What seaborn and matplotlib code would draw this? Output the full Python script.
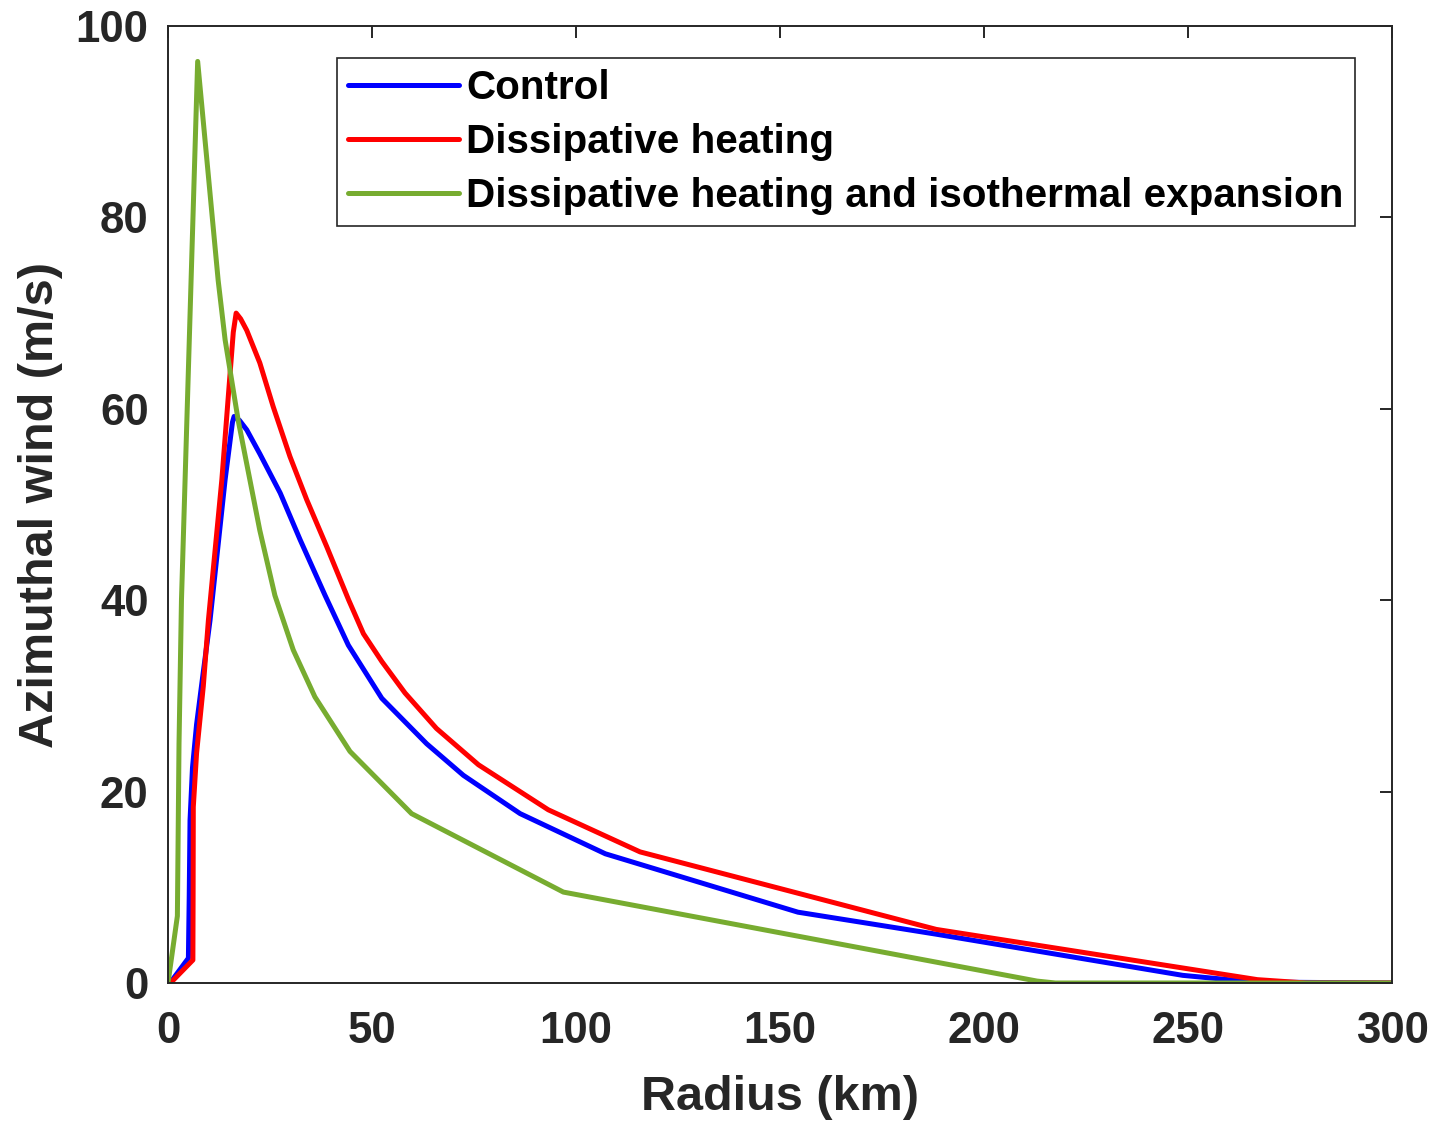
import numpy as np
import pandas as pd
import matplotlib
matplotlib.use("Agg")
import matplotlib.pyplot as plt
import seaborn as sns

# ---- data ----
control_r = [0.5, 5.0, 5.2, 5.4, 6.0, 7.0, 8.5, 10.3, 14.0, 15.8, 16.2, 17.5, 19.3, 22.5, 27.5,
             32.4, 38.5, 44.2, 52.4, 63.4, 72.4, 86.3, 107.2, 154.4, 188.3, 248.7, 266.0, 300.0]
control_v = [0.0, 2.6, 9.0, 17.0, 22.5, 27.0, 32.0, 37.9, 52.6, 58.6, 59.2, 58.8, 57.8, 55.3, 51.2,
             46.3, 40.5, 35.3, 29.75, 25.0, 21.7, 17.7, 13.5, 7.4, 5.1, 0.8, 0.1, 0.0]

dissip_r = [0.6, 6.1, 6.15, 6.2, 7.0, 8.65, 9.9, 13.2, 16.0, 16.7, 17.8, 19.3, 22.5, 25.8, 29.9,
            34.0, 38.9, 44.3, 47.9, 52.4, 58.1, 65.8, 76.1, 93.2, 115.7, 188.3, 267.0, 279.0, 300.0]
dissip_v = [0.0, 2.4, 9.0, 18.4, 24.0, 31.0, 37.9, 52.6, 68.0, 70.0, 69.4, 68.2, 64.8, 60.2, 55.0,
            50.5, 45.6, 40.0, 36.5, 33.6, 30.3, 26.6, 22.8, 18.1, 13.7, 5.6, 0.35, 0.0, 0.0]

iso_r = [0.0, 2.3, 2.7, 3.3, 7.27, 12.3, 14.0, 17.2, 22.5, 26.2, 30.7, 36.0, 44.6, 59.7,
         96.9, 213.0, 217.5, 300.0]
iso_v = [0.0, 7.0, 25.0, 40.0, 96.3, 73.4, 67.2, 58.8, 47.3, 40.5, 34.8, 29.9, 24.2, 17.7,
         9.5, 0.2, 0.0, 0.0]

labels = ["Control", "Dissipative heating", "Dissipative heating and isothermal expansion"]
colors = ["#0000FF", "#FF0000", "#77AC30"]
x_ticks = [0, 50, 100, 150, 200, 250, 300]
y_ticks = [0, 20, 40, 60, 80, 100]

df = pd.concat([
    pd.DataFrame({"r": control_r, "v": control_v, "case": labels[0]}),
    pd.DataFrame({"r": dissip_r, "v": dissip_v, "case": labels[1]}),
    pd.DataFrame({"r": iso_r, "v": iso_v, "case": labels[2]}),
], ignore_index=True)

sns.set_theme(style="white")
plt.rcParams["font.family"] = ["Liberation Sans", "DejaVu Sans"]
plt.rcParams["font.weight"] = "bold"

fig = plt.figure(figsize=(14.38, 11.26), dpi=100)
ax = fig.add_axes([168 / 1438, 1 - 983 / 1126, 1224 / 1438, 957 / 1126])

sns.lineplot(data=df, x="r", y="v", hue="case", hue_order=labels,
             palette=colors, sort=False, estimator=None, linewidth=3.6, ax=ax)

ax.set_xlim(0, 300)
ax.set_ylim(0, 100)
ax.set_xticks(x_ticks)
ax.set_yticks(y_ticks)
ax.tick_params(direction="in", top=True, right=True, length=8.6, width=1.4,
               colors="#262626", labelsize=31.5, pad=14)
ax.tick_params(axis="x", pad=20)
for lab in ax.get_xticklabels() + ax.get_yticklabels():
    lab.set_fontweight("bold")
for sp in ax.spines.values():
    sp.set_visible(True)
    sp.set_color("#262626")
    sp.set_linewidth(1.4)

ax.set_xlabel("Radius (km)", fontsize=35, fontweight="bold", color="#262626", labelpad=17)
ax.set_ylabel("Azimuthal wind (m/s)", fontsize=35, fontweight="bold", color="#262626", labelpad=9)

leg = ax.legend(loc="upper left", bbox_to_anchor=(0.138, (983 - 58) / 957), borderaxespad=0,
                prop={"weight": "bold", "size": 29.1},
                frameon=True, fancybox=False, framealpha=1, edgecolor="#262626",
                handlelength=2.75, handletextpad=0.18, borderpad=0.27, labelspacing=0.4)
leg.get_frame().set_linewidth(1.2)
for line in leg.get_lines():
    line.set_linewidth(3.6)
for t in leg.get_texts():
    t.set_color("black")

fig.savefig("out.png", dpi=100)
